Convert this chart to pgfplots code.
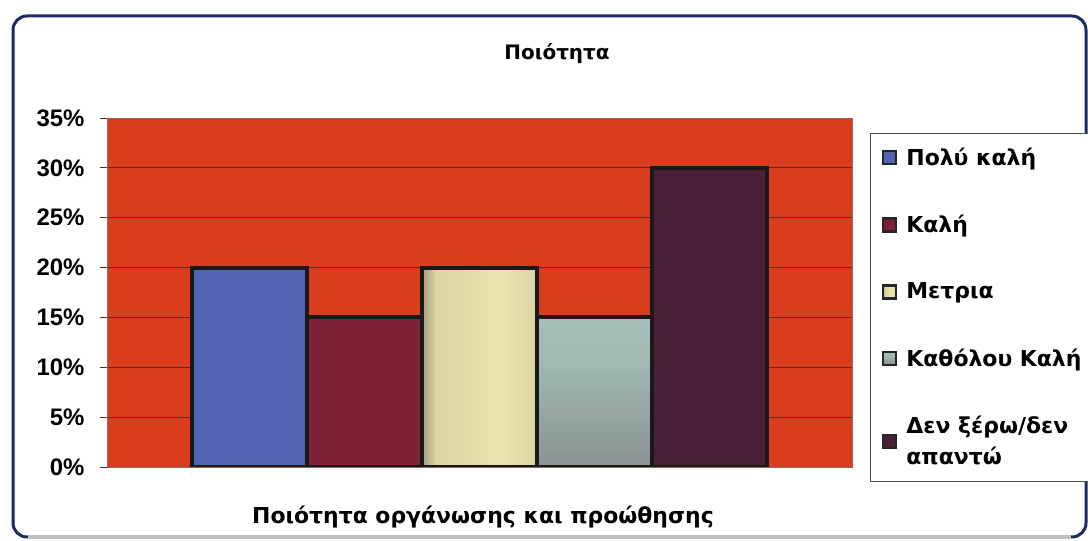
\documentclass[border=0pt]{standalone}
\usepackage{pgfplots}
\pgfplotsset{compat=1.18}
\usepackage{fontspec}
\setmainfont{DejaVu Sans}
\newfontfamily\tickfont{Liberation Sans}
\definecolor{framenavy}{HTML}{1E2B63}
\definecolor{bgred}{HTML}{D83D1D}
\definecolor{gridc}{HTML}{6E2414}
\definecolor{cA}{HTML}{5363B3}
\definecolor{cB}{HTML}{7D2237}
\definecolor{cC}{HTML}{DDD5A2}
\definecolor{cCl}{HTML}{A89C80}
\definecolor{cCr}{HTML}{ECE4AE}
\definecolor{cD}{HTML}{A4C0B8}
\definecolor{cDl}{HTML}{8A9292}
\definecolor{cE}{HTML}{4B1F38}
\pgfdeclarehorizontalshading{barC}{100bp}{color(0bp)=(cCl); color(25bp)=(cCl); color(31bp)=(cC); color(60bp)=(cCr); color(75bp)=(cC); color(100bp)=(cC)}
\pgfdeclareverticalshading{barD}{100bp}{color(0bp)=(cDl); color(25bp)=(cDl); color(60bp)=(cD!85!cDl); color(75bp)=(cD); color(100bp)=(cD)}
\begin{document}
\begin{tikzpicture}[x=1bp,y=1bp]
\path[use as bounding box] (0,0) rectangle (1088,541);
\fill[white] (0,0) rectangle (1088,541);
\draw[framenavy, line width=3bp, rounded corners=14bp] (13,4) rectangle (1086,525);
\draw[black!25, line width=3.2bp] (28,4) -- (1071,4);
\node[font=\bfseries\fontsize{20}{22}\selectfont] at (557,487) {Ποιότητα};
\node[font=\bfseries\fontsize{22}{24}\selectfont] at (483,24) {Ποιότητα οργάνωσης και προώθησης};
\begin{axis}[
  at={(107bp,74bp)}, anchor=south west,
  scale only axis, width=745bp, height=349bp,
  xmin=-1.24, xmax=5.24, ymin=0, ymax=35,
  xtick=\empty,
  ytick={0,5,10,15,20,25,30,35},
  yticklabels={0\%,5\%,10\%,15\%,20\%,25\%,30\%,35\%},
  yticklabel style={font=\tickfont\bfseries\fontsize{24}{24}\selectfont, xshift=-12bp},
  ytick pos=left, tick align=outside, major tick length=7bp,
  tick style={draw=gridc, line width=0.8bp},
  axis background/.style={fill=bgred},
  axis line style={draw=gridc!70, line width=0.6bp},
  ymajorgrids, grid style={draw=gridc, line width=0.8bp},
  legend style={at={(1.0235,0.958)}, anchor=north west, draw=black!70,
    line width=0.6bp, fill=white, font=\bfseries\fontsize{22}{31}\selectfont,
    row sep=44.5bp, inner xsep=12bp, inner ysep=13bp,
    cells={anchor=west, align=left},
    /tikz/every odd column/.append style={column sep=7bp}},
  legend cell align=left,
  legend image code/.code={\draw[#1,/tikz/.cd,line width=2.6bp,draw=black!85] (0bp,-6.5bp) rectangle (13bp,6.5bp);},
]
\addplot[ybar, bar shift=0pt, bar width=1, fill=cA, draw=black!90, line width=4bp] coordinates {(0,20)};
\addlegendentry{Πολύ καλή}
\addplot[ybar, bar shift=0pt, bar width=1, fill=cB, draw=black!90, line width=4bp] coordinates {(1,15)};
\addlegendentry{Καλή}
\addplot[ybar, bar shift=0pt, bar width=1, shading=barC, draw=black!90, line width=4bp] coordinates {(2,20)};
\addlegendentry{Μετρια}
\addplot[ybar, bar shift=0pt, bar width=1, shading=barD, draw=black!90, line width=4bp] coordinates {(3,15)};
\addlegendentry{Καθόλου Καλή}
\addplot[ybar, bar shift=0pt, bar width=1, fill=cE, draw=black!90, line width=4bp] coordinates {(4,30)};
\addlegendentry{Δεν ξέρω/δεν\\απαντώ}
\end{axis}
\end{tikzpicture}
\end{document}
